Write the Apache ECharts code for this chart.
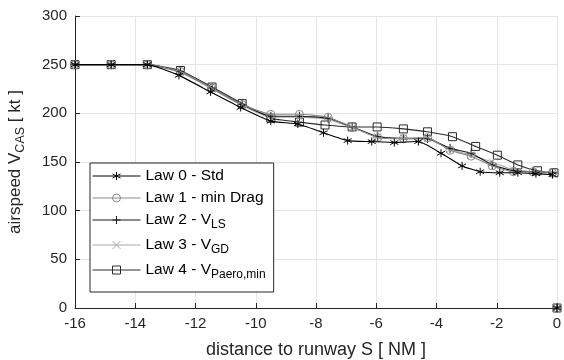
<!DOCTYPE html>
<html><head><meta charset="utf-8">
<script src="https://cdn.jsdelivr.net/npm/echarts@6/dist/echarts.min.js"></script>
<style>html,body{margin:0;padding:0;background:#fff}#c{width:564px;height:360px}</style>
</head><body><div id="c"></div>
<script>
const lawNames = ['Law 0 - Std', 'Law 1 - min Drag', 'Law 2 - V_LS', 'Law 3 - V_GD', 'Law 4 - V_Paero,min'];
const dist0 = [-16, -14.8, -13.6, -12.55, -11.5, -10.5, -9.5, -8.6, -7.75, -6.95, -6.15, -5.4, -4.6, -3.85, -3.15, -2.55, -1.9, -1.3, -0.7, -0.15];
const spd0  = [250, 250, 250, 239, 222, 206, 192, 189, 180, 172, 171, 170, 171, 159, 146, 140, 139, 139, 138, 137];
const dist1 = [-16, -14.8, -13.6, -12.5, -11.45, -10.45, -9.5, -8.55, -7.6, -6.8, -5.95, -5.1, -4.3, -3.55, -2.85, -2.15, -1.45, -0.8, -0.15];
const spd1  = [250, 250, 250, 243, 226, 209, 199, 199, 196, 186, 175, 174, 175, 162, 156, 146, 140, 140, 139];
const dist2 = [-16, -14.8, -13.6, -12.5, -11.45, -10.45, -9.5, -8.55, -7.6, -6.8, -5.95, -5.1, -4.3, -3.55, -2.85, -2.15, -1.45, -0.8, -0.15];
const spd2  = [250, 250, 250, 243, 226, 209, 197, 197, 195, 186, 176, 174, 174, 164, 159, 147, 141, 140, 139];
const dist3 = [-16, -14.8, -13.6, -12.5, -11.45, -10.45, -9.5, -8.55, -7.6, -6.8, -5.95, -5.1, -4.3, -3.55, -2.85, -2.15, -1.45, -0.8, -0.1];
const spd3  = [250, 250, 250, 242, 225, 208, 196, 196, 194, 185, 176, 175, 174, 163, 157, 150, 142, 140, 140];
const dist4 = [-16, -14.8, -13.6, -12.5, -11.45, -10.45, -9.5, -8.55, -7.7, -6.8, -5.97, -5.1, -4.3, -3.47, -2.7, -1.98, -1.3, -0.65, -0.1];
const spd4  = [250, 250, 250, 244, 227, 210, 195, 191, 188, 186, 186, 184, 181, 176, 166, 157, 147, 141, 139];
const endDist = 0, endSpd = 0;
const xTicks = [-16, -14, -12, -10, -8, -6, -4, -2, 0];
const yTicks = [0, 50, 100, 150, 200, 250, 300];

const dists = [dist0, dist1, dist2, dist3, dist4];
const spds = [spd0, spd1, spd2, spd3, spd4];
const colors = ['#000000', '#8a8a8a', '#1a1a1a', '#a8a8a8', '#2a2a2a'];
const symbols = [
  'path://M5,0L5,10M0.7,2.5L9.3,7.5M9.3,2.5L0.7,7.5',
  'circle',
  'path://M5,0L5,10M0,5L10,5',
  'path://M0,0L10,10M10,0L0,10',
  'rect'
];
const symSizes = [8, 8, 9, 7, 8];

const series = [];
lawNames.forEach((nm, i) => {
  const data = dists[i].map((d, k) => [d, spds[i][k]]);
  data.push(['-', '-']);
  data.push([endDist, endSpd]);
  series.push({
    name: nm, type: 'line', data: data, smooth: 0.15, connectNulls: false,
    symbol: symbols[i], symbolSize: symSizes[i], showAllSymbol: true,
    lineStyle: { color: colors[i], width: 1.1 },
    itemStyle: { color: 'rgba(0,0,0,0)', borderColor: colors[i], borderWidth: 1 },
    emphasis: { disabled: true }, animation: false, z: 10 - i
  });
});

function fmtLegend(name) {
  const m = name.match(/^(.*V)_(.*)$/);
  if (m) return '{n|' + m[1] + '}{s|' + m[2] + '}';
  return '{n|' + name + '}';
}

const chart = echarts.init(document.getElementById('c'), null, { renderer: 'canvas' });
chart.setOption({
  animation: false,
  textStyle: { fontFamily: 'Liberation Sans, Arial, sans-serif' },
  grid: { left: 75, right: 7, top: 16, bottom: 52, containLabel: false, outerBoundsMode: 'none' },
  xAxis: {
    type: 'value', min: xTicks[0], max: xTicks[xTicks.length - 1], interval: 2,
    name: 'distance to runway S [ NM ]', nameLocation: 'middle', nameGap: 33,
    nameTextStyle: { fontSize: 18, color: '#262626', fontFamily: 'Liberation Sans' },
    axisLine: { show: true, onZero: false, lineStyle: { color: '#262626', width: 1 } },
    axisTick: { show: true, inside: true, length: 5, lineStyle: { color: '#262626' } },
    axisLabel: { fontSize: 15, color: '#262626', margin: 8, fontFamily: 'Liberation Sans' },
    splitLine: { show: true, lineStyle: { color: '#e5e5e5', width: 1 } }
  },
  yAxis: {
    type: 'value', min: yTicks[0], max: yTicks[yTicks.length - 1], interval: 50,
    name: '{a|airspeed V}{s|CAS}{a| [ kt ]}', nameLocation: 'middle', nameGap: 48, nameRotate: 90,
    nameTextStyle: {
      color: '#262626', fontFamily: 'Liberation Sans',
      rich: {
        a: { fontSize: 17, color: '#262626', fontFamily: 'Liberation Sans' },
        s: { fontSize: 12.5, color: '#262626', fontFamily: 'Liberation Sans', padding: [10, 0, 0, 0] }
      }
    },
    axisLine: { show: true, onZero: false, lineStyle: { color: '#262626', width: 1 } },
    axisTick: { show: true, inside: true, length: 5, lineStyle: { color: '#262626' } },
    axisLabel: { fontSize: 15, color: '#262626', margin: 8, fontFamily: 'Liberation Sans' },
    splitLine: { show: true, lineStyle: { color: '#e5e5e5', width: 1 } }
  },
  legend: {
    orient: 'vertical', left: 90, top: 163, width: 180,
    backgroundColor: '#ffffff', borderColor: '#262626', borderWidth: 1, borderRadius: 0,
    padding: [5, 8, 11, 2], itemGap: 6, itemWidth: 48, itemHeight: 10,
    lineStyle: { width: 1 },
    itemStyle: { borderWidth: 1 },
    data: lawNames,
    formatter: fmtLegend,
    selectedMode: false,
    textStyle: {
      color: '#000', fontFamily: 'Liberation Sans',
      rich: {
        n: { fontSize: 15.5, color: '#000', fontFamily: 'Liberation Sans', height: 20 },
        s: { fontSize: 12, color: '#000', fontFamily: 'Liberation Sans', padding: [10, 0, 0, 0] }
      }
    }
  },
  series: series
});
</script></body></html>
